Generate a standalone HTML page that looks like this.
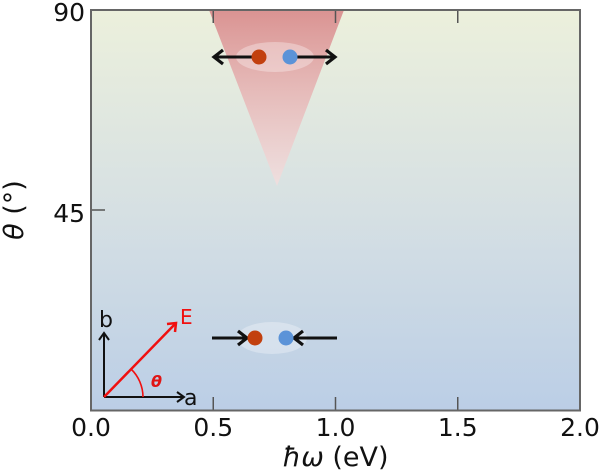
<!DOCTYPE html>
<html><head><meta charset="utf-8">
<style>
html,body{margin:0;padding:0;background:#fff;}
svg{display:block;}
text{font-family:"DejaVu Sans","Liberation Sans",sans-serif;}
</style></head>
<body>
<svg width="600" height="473" viewBox="0 0 600 473" xmlns="http://www.w3.org/2000/svg">
<defs>
<linearGradient id="bg" x1="0" y1="0" x2="0" y2="1">
<stop offset="0" stop-color="#ecf0dc"/>
<stop offset="0.5" stop-color="#d6e0e3"/>
<stop offset="1" stop-color="#bbcee6"/>
</linearGradient>
<linearGradient id="cone" x1="0" y1="0" x2="0" y2="1">
<stop offset="0" stop-color="#d98e8e" stop-opacity="0.95"/>
<stop offset="1" stop-color="#f5dede" stop-opacity="0.75"/>
</linearGradient>
</defs>
<rect x="91" y="10" width="489" height="400.5" fill="url(#bg)"/>
<polygon points="209,10 344,10 277,186" fill="url(#cone)"/>
<!-- top ellipse -->
<ellipse cx="275" cy="57" rx="39" ry="15" fill="#ffffff" fill-opacity="0.32"/>
<line x1="252" y1="57" x2="214" y2="57" stroke="#111" stroke-width="3"/>
<polyline points="223,50 214,57 223,64" fill="none" stroke="#111" stroke-width="3.2"/>
<line x1="297" y1="57" x2="335" y2="57" stroke="#111" stroke-width="3"/>
<polyline points="326,50 335,57 326,64" fill="none" stroke="#111" stroke-width="3.2"/>
<circle cx="259" cy="57" r="7.5" fill="#c2400f"/>
<circle cx="290" cy="57" r="7.5" fill="#5b93d8"/>
<!-- bottom ellipse -->
<ellipse cx="272" cy="338" rx="35" ry="16" fill="#ffffff" fill-opacity="0.3"/>
<line x1="212" y1="338" x2="246" y2="338" stroke="#111" stroke-width="3"/>
<polyline points="238,331 247,338 238,345" fill="none" stroke="#111" stroke-width="3.2"/>
<line x1="337" y1="338" x2="295" y2="338" stroke="#111" stroke-width="3"/>
<polyline points="303,331 294,338 303,345" fill="none" stroke="#111" stroke-width="3.2"/>
<circle cx="255" cy="338" r="7.5" fill="#c2400f"/>
<circle cx="286" cy="338" r="7.5" fill="#5b93d8"/>
<!-- inset axes -->
<line x1="104" y1="397" x2="104" y2="333" stroke="#111" stroke-width="2"/>
<polyline points="99,340 104,333 109,340" fill="none" stroke="#111" stroke-width="2"/>
<line x1="104" y1="397" x2="184" y2="397" stroke="#111" stroke-width="2"/>
<polyline points="177,392 184,397 177,402" fill="none" stroke="#111" stroke-width="2"/>
<text x="99" y="327" font-size="22" fill="#111">b</text>
<text x="184" y="405" font-size="22" fill="#111">a</text>
<line x1="104" y1="397" x2="176" y2="323" stroke="#f01010" stroke-width="2.5"/>
<polyline points="167,324 176,323 175,332" fill="none" stroke="#f01010" stroke-width="2.5"/>
<path d="M143 397 A39 39 0 0 0 131 369" fill="none" stroke="#f01010" stroke-width="1.6"/>
<text x="180" y="324" font-size="20" fill="#f01010">E</text>
<text x="151" y="387" font-size="16" font-weight="bold" font-style="italic" fill="#e01515" font-family="DejaVu Serif, serif">θ</text>
<!-- ticks -->
<g stroke="#555" stroke-width="1.5">
<line x1="213.25" y1="410" x2="213.25" y2="397"/>
<line x1="335.5" y1="410" x2="335.5" y2="397"/>
<line x1="457.75" y1="410" x2="457.75" y2="397"/>
<line x1="213.25" y1="10" x2="213.25" y2="23"/>
<line x1="335.5" y1="10" x2="335.5" y2="23"/>
<line x1="457.75" y1="10" x2="457.75" y2="23"/>
<line x1="91" y1="210" x2="105" y2="210"/>
</g>
<rect x="91" y="10" width="489" height="400.5" fill="none" stroke="#666" stroke-width="2"/>
<!-- tick labels -->
<g font-size="25" fill="#111">
<text x="85" y="21" text-anchor="end">90</text>
<text x="85" y="222" text-anchor="end">45</text>
<text x="91" y="436" text-anchor="middle">0.0</text>
<text x="213.25" y="436" text-anchor="middle">0.5</text>
<text x="335.5" y="436" text-anchor="middle">1.0</text>
<text x="457.75" y="436" text-anchor="middle">1.5</text>
<text x="580" y="436" text-anchor="middle">2.0</text>
</g>
<text x="335.5" y="466" font-size="27" text-anchor="middle" fill="#111"><tspan font-style="italic">ħω</tspan> (eV)</text>
<text transform="translate(23,210) rotate(-90)" font-size="27" text-anchor="middle" fill="#111"><tspan font-style="italic">θ</tspan> (°)</text>
</svg>
</body></html>
